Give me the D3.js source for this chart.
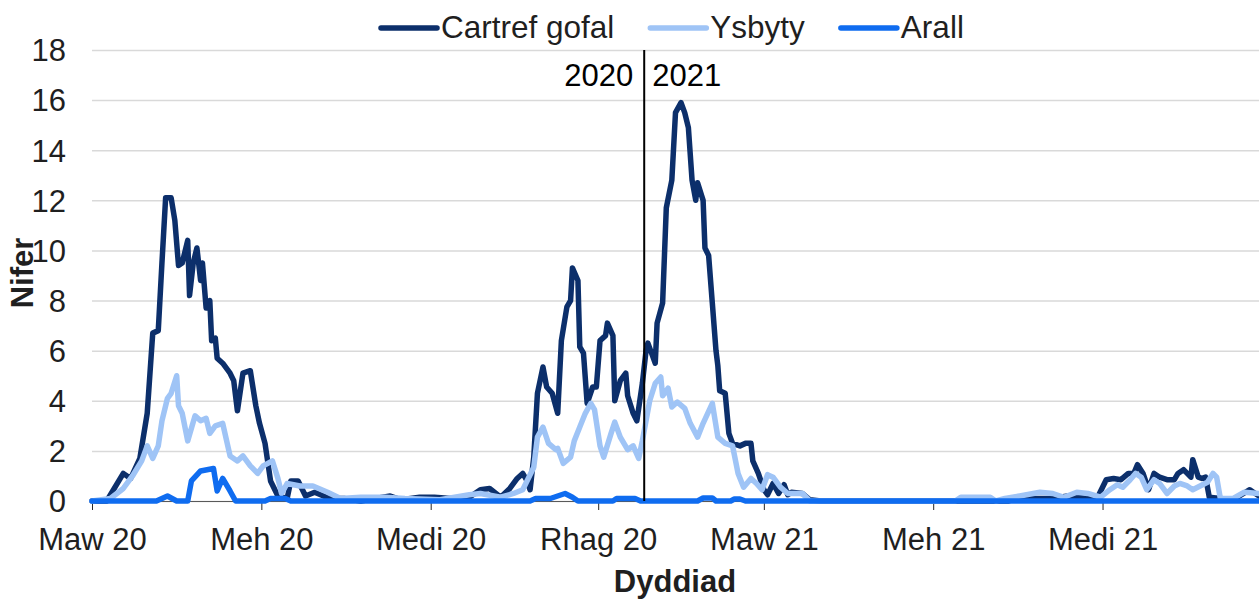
<!DOCTYPE html>
<html>
<head>
<meta charset="utf-8">
<script src="https://cdn.jsdelivr.net/npm/d3@7"></script>
<style>
  body { margin: 0; background: #fff; }
  text { font-family: "Liberation Sans", Arial, sans-serif; }
</style>
</head>
<body>
<div class="chart"></div>
<script>
// series names + colours (legend order)
var seriesNames = ["Cartref gofal", "Ysbyty", "Arall"];
var seriesColors = ["#0c2f6b", "#9fc4f6", "#0f6cf0"];

// care home deaths (date, value)
var careHome = [
  ["2020-03-01",0],["2020-03-09",0],["2020-03-18",1.1],["2020-03-22",0.9],["2020-03-27",1.7],["2020-03-31",3.5],
  ["2020-04-03",6.7],["2020-04-06",6.8],["2020-04-08",9.5],["2020-04-10",12.1],["2020-04-13",12.1],["2020-04-15",11.2],
  ["2020-04-17",9.4],["2020-04-19",9.5],["2020-04-22",10.4],["2020-04-23",8.2],["2020-04-25",9.5],["2020-04-27",10.1],
  ["2020-04-29",8.8],["2020-04-30",9.5],["2020-05-02",7.7],["2020-05-04",8.0],["2020-05-05",6.4],["2020-05-07",6.5],
  ["2020-05-08",5.7],["2020-05-11",5.5],["2020-05-15",5.1],["2020-05-17",4.8],["2020-05-19",3.6],["2020-05-22",5.1],
  ["2020-05-26",5.2],["2020-05-29",3.8],["2020-05-31",3.1],["2020-06-03",2.3],["2020-06-06",0.8],["2020-06-10",0.2],
  ["2020-06-15",0.1],["2020-06-17",0.8],["2020-06-21",0.8],["2020-06-25",0.2],["2020-06-30",0.35],["2020-07-08",0.1],
  ["2020-07-16",0.1],["2020-07-25",0],["2020-08-10",0.2],["2020-08-16",0.05],["2020-08-26",0.15],["2020-09-03",0.15],
  ["2020-09-12",0.1],["2020-09-20",0.05],["2020-09-28",0.45],["2020-10-03",0.5],["2020-10-09",0.15],["2020-10-14",0.5],
  ["2020-10-18",0.9],["2020-10-21",1.1],["2020-10-23",0.85],["2020-10-25",0.45],["2020-10-27",1.75],["2020-10-29",4.3],
  ["2020-11-01",5.35],["2020-11-03",4.55],["2020-11-06",4.3],["2020-11-09",3.5],["2020-11-11",6.4],["2020-11-14",7.75],
  ["2020-11-16",8.0],["2020-11-17",9.3],["2020-11-20",8.8],["2020-11-21",6.15],["2020-11-23",5.9],["2020-11-25",3.9],
  ["2020-11-28",4.55],["2020-11-30",4.55],["2020-12-02",6.4],["2020-12-05",6.6],["2020-12-06",7.1],["2020-12-09",6.6],
  ["2020-12-10",4.0],["2020-12-13",4.8],["2020-12-16",5.1],["2020-12-17",4.2],["2020-12-20",3.5],["2020-12-22",3.2],
  ["2020-12-25",4.7],["2020-12-27",6.0],["2020-12-28",6.3],["2020-12-30",5.9],["2021-01-01",5.5],["2021-01-02",7.1],
  ["2021-01-05",7.9],["2021-01-07",11.7],["2021-01-10",12.8],["2021-01-12",15.5],["2021-01-15",15.9],["2021-01-17",15.5],
  ["2021-01-19",14.9],["2021-01-21",12.8],["2021-01-23",12.0],["2021-01-24",12.7],["2021-01-27",12.0],["2021-01-28",10.1],
  ["2021-01-30",9.8],["2021-02-01",7.9],["2021-02-03",6.0],["2021-02-04",5.4],["2021-02-05",4.4],["2021-02-08",4.3],
  ["2021-02-10",2.7],["2021-02-12",2.3],["2021-02-16",2.2],["2021-02-19",2.3],["2021-02-22",2.3],["2021-02-23",1.6],
  ["2021-02-26",1.1],["2021-03-01",0.45],["2021-03-03",0.25],["2021-03-06",0.7],["2021-03-09",0.3],["2021-03-12",0.65],
  ["2021-03-14",0.25],["2021-03-16",0.35],["2021-03-22",0.3],["2021-03-26",0.05],["2021-04-01",0],["2021-07-12",0],
  ["2021-07-18",0.15],["2021-07-25",0.1],["2021-08-05",0.1],["2021-08-13",0.2],["2021-08-24",0.1],["2021-08-29",0.1],
  ["2021-09-03",0.85],["2021-09-07",0.9],["2021-09-11",0.85],["2021-09-15",1.1],["2021-09-18",1.1],["2021-09-20",1.45],
  ["2021-09-23",1.1],["2021-09-26",0.45],["2021-09-29",1.1],["2021-10-02",0.95],["2021-10-06",0.85],["2021-10-10",0.85],
  ["2021-10-12",1.1],["2021-10-15",1.25],["2021-10-19",0.95],["2021-10-20",1.65],["2021-10-23",0.95],["2021-10-25",0.9],
  ["2021-10-27",0.95],["2021-10-29",0.15],["2021-11-04",0.1],["2021-11-11",0.05],["2021-11-20",0.45],["2021-11-25",0.2]
];

// hospital
var hospital = [
  ["2020-03-01",0],["2020-03-11",0.1],["2020-03-18",0.5],["2020-03-23",1.0],["2020-03-28",1.6],["2020-03-31",2.2],
  ["2020-04-03",1.7],["2020-04-06",2.2],["2020-04-08",3.2],["2020-04-11",4.1],["2020-04-13",4.3],["2020-04-16",5.0],
  ["2020-04-17",3.8],["2020-04-19",3.5],["2020-04-22",2.4],["2020-04-26",3.4],["2020-04-29",3.2],["2020-05-02",3.3],
  ["2020-05-04",2.7],["2020-05-07",3.0],["2020-05-11",3.1],["2020-05-15",1.8],["2020-05-19",1.6],["2020-05-22",1.8],
  ["2020-05-26",1.4],["2020-05-30",1.1],["2020-06-02",1.4],["2020-06-07",1.6],["2020-06-10",0.9],["2020-06-12",0.3],
  ["2020-06-15",0.7],["2020-06-22",0.6],["2020-06-29",0.6],["2020-07-07",0.35],["2020-07-14",0.1],["2020-07-25",0.15],
  ["2020-08-07",0.15],["2020-08-18",0.1],["2020-09-06",0.05],["2020-09-22",0.25],["2020-09-28",0.3],["2020-10-09",0.15],
  ["2020-10-16",0.3],["2020-10-21",0.45],["2020-10-27",1.35],["2020-10-29",2.55],["2020-11-01",2.95],["2020-11-04",2.3],
  ["2020-11-08",2.05],["2020-11-09",2.1],["2020-11-12",1.5],["2020-11-16",1.75],["2020-11-18",2.4],["2020-11-21",2.95],
  ["2020-11-24",3.5],["2020-11-27",3.9],["2020-11-29",3.65],["2020-12-02",2.2],["2020-12-04",1.75],["2020-12-08",2.7],
  ["2020-12-10",3.15],["2020-12-13",2.55],["2020-12-17",2.05],["2020-12-20",2.2],["2020-12-23",1.7],["2020-12-25",2.4],
  ["2020-12-29",4.0],["2021-01-01",4.7],["2021-01-04",4.95],["2021-01-05",4.2],["2021-01-08",4.5],["2021-01-10",3.75],
  ["2021-01-13",3.95],["2021-01-17",3.7],["2021-01-20",3.1],["2021-01-24",2.55],["2021-01-27",3.1],["2021-02-01",3.9],
  ["2021-02-04",2.55],["2021-02-08",2.3],["2021-02-12",2.2],["2021-02-15",1.1],["2021-02-18",0.55],["2021-02-22",0.9],
  ["2021-02-25",0.7],["2021-02-28",0.45],["2021-03-03",1.05],["2021-03-06",0.95],["2021-03-10",0.55],["2021-03-14",0.3],
  ["2021-03-19",0.3],["2021-03-22",0.3],["2021-03-26",0],["2021-06-13",0],["2021-06-16",0.15],["2021-07-02",0.15],
  ["2021-07-05",0],["2021-07-10",0.1],["2021-07-18",0.2],["2021-07-29",0.35],["2021-08-05",0.3],["2021-08-11",0.15],
  ["2021-08-18",0.35],["2021-08-24",0.3],["2021-08-31",0.15],["2021-09-05",0.45],["2021-09-09",0.65],["2021-09-12",0.55],
  ["2021-09-16",0.85],["2021-09-19",1.1],["2021-09-22",0.95],["2021-09-25",0.45],["2021-09-29",0.85],["2021-10-02",0.7],
  ["2021-10-06",0.3],["2021-10-10",0.6],["2021-10-13",0.7],["2021-10-17",0.6],["2021-10-20",0.45],["2021-10-24",0.6],
  ["2021-10-28",0.75],["2021-10-31",1.1],["2021-11-02",0.95],["2021-11-04",0.1],["2021-11-11",0.1],["2021-11-17",0.35],
  ["2021-11-25",0.3]
];

// other
var other = [
  ["2020-03-01",0],["2020-04-05",0],["2020-04-11",0.2],["2020-04-16",0],["2020-04-22",0],["2020-04-24",0.8],
  ["2020-04-29",1.2],["2020-05-06",1.3],["2020-05-08",0.4],["2020-05-11",0.9],["2020-05-15",0.4],["2020-05-18",0],
  ["2020-06-03",0],["2020-06-06",0.1],["2020-06-14",0.1],["2020-06-17",0],["2020-10-25",0],["2020-10-28",0.1],
  ["2020-11-05",0.1],["2020-11-13",0.3],["2020-11-17",0.15],["2020-11-20",0],["2020-12-09",0],["2020-12-11",0.1],
  ["2020-12-21",0.1],["2020-12-24",0],["2021-01-24",0],["2021-01-27",0.12],["2021-02-01",0.12],["2021-02-03",0],
  ["2021-02-11",0],["2021-02-13",0.08],["2021-02-16",0.08],["2021-02-19",0],["2021-11-25",0]
];

// axes
var yTicks = [0, 2, 4, 6, 8, 10, 12, 14, 16, 18];
var xTickDates = ["2020-03-01", "2020-06-01", "2020-09-01", "2020-12-01", "2021-03-01", "2021-06-01", "2021-09-01"];
var xTickLabels = ["Maw 20", "Meh 20", "Medi 20", "Rhag 20", "Maw 21", "Meh 21", "Medi 21"];
var xDomain = ["2020-03-01", "2021-11-25"];
var yearSplit = "2020-12-26";
var yearLabels = ["2020", "2021"];

var svgWidth = 1259;
var svgHeight = 605;
var margin = { top: 50, right: 0, bottom: 104, left: 92 };
var width = svgWidth - margin.left - margin.right;
var height = svgHeight - margin.top - margin.bottom;

var parseDate = d3.timeParse("%Y-%m-%d");

var svg = d3.select(".chart")
  .append("svg")
  .attr("width", svgWidth)
  .attr("height", svgHeight);

var chartGroup = svg.append("g")
  .attr("transform", `translate(${margin.left}, ${margin.top})`);

var xTimeScale = d3.scaleTime()
  .domain(xDomain.map(parseDate))
  .range([0, width]);

var yLinearScale = d3.scaleLinear()
  .domain([0, 18])
  .range([height, 0]);

// gridlines + y labels
var leftAxis = d3.axisLeft(yLinearScale)
  .tickValues(yTicks)
  .tickSize(-width)
  .tickPadding(26);

var yAxis = chartGroup.append("g").call(leftAxis);
yAxis.select(".domain").remove();
yAxis.selectAll("line").attr("stroke", "#d9d9d9").attr("stroke-width", 1.5);
yAxis.selectAll("text")
  .attr("font-size", 31)
  .attr("fill", "#1f1f1f")
  .attr("dy", "0.35em");

// x axis
var bottomAxis = d3.axisBottom(xTimeScale)
  .tickValues(xTickDates.map(parseDate))
  .tickFormat((d, i) => xTickLabels[i])
  .tickSize(9)
  .tickSizeOuter(0);

var xAxis = chartGroup.append("g")
  .attr("transform", `translate(0, ${height})`)
  .call(bottomAxis);
xAxis.select(".domain").attr("stroke", "#595959");
xAxis.selectAll("line").attr("stroke", "#262626");
xAxis.selectAll("text")
  .attr("font-size", 31)
  .attr("fill", "#1f1f1f")
  .attr("dy", null)
  .attr("y", 49);

// series lines
var allSeries = [careHome, hospital, other];
var lineGen = d3.line()
  .x(d => xTimeScale(parseDate(d[0])))
  .y(d => yLinearScale(d[1]));

chartGroup.selectAll(".series")
  .data(allSeries)
  .enter()
  .append("path")
  .attr("class", "series")
  .attr("d", d => lineGen(d))
  .attr("fill", "none")
  .attr("stroke", (d, i) => seriesColors[i])
  .attr("stroke-width", 5.5)
  .attr("stroke-linejoin", "round")
  .attr("stroke-linecap", "round");

// year split marker
var splitX = xTimeScale(parseDate(yearSplit));
chartGroup.append("line")
  .attr("x1", splitX).attr("x2", splitX)
  .attr("y1", 0).attr("y2", height)
  .attr("stroke", "#000")
  .attr("stroke-width", 2);

chartGroup.append("text")
  .attr("x", splitX - 11)
  .attr("y", 36)
  .attr("text-anchor", "end")
  .attr("font-size", 31)
  .attr("fill", "#000")
  .text(yearLabels[0]);

chartGroup.append("text")
  .attr("x", splitX + 8)
  .attr("y", 36)
  .attr("font-size", 31)
  .attr("fill", "#000")
  .text(yearLabels[1]);

// axis titles
chartGroup.append("text")
  .attr("transform", "rotate(-90)")
  .attr("x", 0 - (273 - margin.top))
  .attr("y", 33 - margin.left)
  .attr("text-anchor", "middle")
  .attr("font-size", 31)
  .attr("font-weight", "bold")
  .attr("fill", "#1f1f1f")
  .text("Nifer");

chartGroup.append("text")
  .attr("x", 675 - margin.left)
  .attr("y", 592 - margin.top)
  .attr("text-anchor", "middle")
  .attr("font-size", 31)
  .attr("font-weight", "bold")
  .attr("fill", "#1f1f1f")
  .text("Dyddiad");

// legend
var legend = svg.append("g");
var legendX = 381;
seriesNames.forEach(function(name, i) {
  legend.append("line")
    .attr("x1", legendX).attr("x2", legendX + 56)
    .attr("y1", 28).attr("y2", 28)
    .attr("stroke", seriesColors[i])
    .attr("stroke-width", 5.5)
    .attr("stroke-linecap", "round");
  var label = legend.append("text")
    .attr("x", legendX + 60)
    .attr("y", 38)
    .attr("font-size", 31.5)
    .attr("fill", "#1f1f1f")
    .text(name);
  legendX = legendX + 60 + label.node().getComputedTextLength() + 36;
});
</script>
</body>
</html>
